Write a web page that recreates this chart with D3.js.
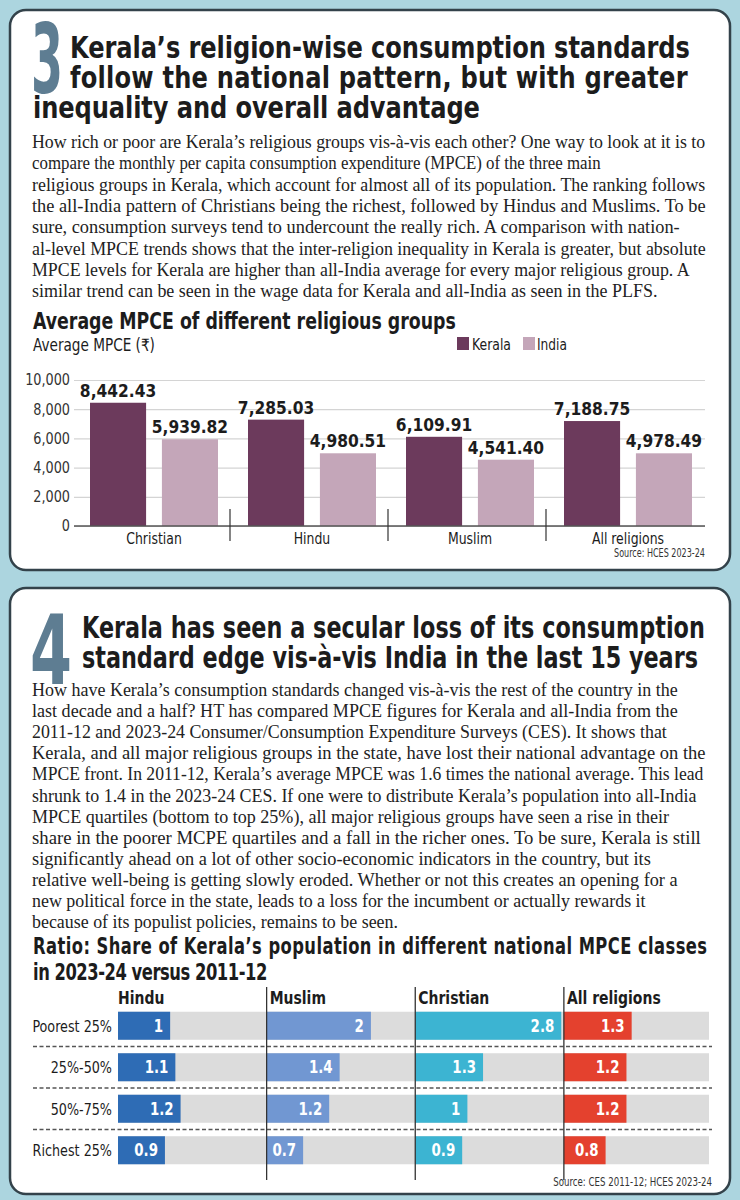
<!DOCTYPE html>
<html><head><meta charset="utf-8">
<script src="https://cdn.jsdelivr.net/npm/d3@7"></script>
<style>
html,body{margin:0;padding:0;background:#acd5df;}
svg{display:block;}
</style></head><body>
<svg id="c" width="740" height="1200"></svg>
<script>
// ---------- DATA ----------
const categories = ["Christian", "Hindu", "Muslim", "All religions"];
const seriesNames = ["Kerala", "India"];
const keralaMPCE = [8442.43, 7285.03, 6109.91, 7188.75];
const indiaMPCE = [5939.82, 4980.51, 4541.40, 4978.49];
const mpceTicks = [0, 2000, 4000, 6000, 8000, 10000];

const quartiles = ["Poorest 25%", "25%-50%", "50%-75%", "Richest 25%"];
const groups = ["Hindu", "Muslim", "Christian", "All religions"];
const hinduRatio = [1, 1.1, 1.2, 0.9];
const muslimRatio = [2, 1.4, 1.2, 0.7];
const christianRatio = [2.8, 1.3, 1, 0.9];
const allRatio = [1.3, 1.2, 1.2, 0.8];

// ---------- TEXT ----------
const title3 = ["Kerala\u2019s religion-wise consumption standards",
  "follow the national pattern, but with greater",
  "inequality and overall advantage"];
const body1 = [
  "How rich or poor are Kerala\u2019s religious groups vis-\u00e0-vis each other? One way to look at it is to",
  "compare the monthly per capita consumption expenditure (MPCE) of the three main",
  "religious groups in Kerala, which account for almost all of its population. The ranking follows",
  "the all-India pattern of Christians being the richest, followed by Hindus and Muslims. To be",
  "sure, consumption surveys tend to undercount the really rich. A comparison with nation-",
  "al-level MPCE trends shows that the inter-religion inequality in Kerala is greater, but absolute",
  "MPCE levels for Kerala are higher than all-India average for every major religious group. A",
  "similar trend can be seen in the wage data for Kerala and all-India as seen in the PLFS."];
const chart1Title = "Average MPCE of different religious groups";
const chart1Sub = "Average MPCE (\u20b9)";
const source1 = "Source: HCES 2023-24";

const title4 = ["Kerala has seen a secular loss of its consumption",
  "standard edge vis-\u00e0-vis India in the last 15 years"];
const body2 = [
  "How have Kerala\u2019s consumption standards changed vis-\u00e0-vis the rest of the country in the",
  "last decade and a half? HT has compared MPCE figures for Kerala and all-India from the",
  "2011-12 and 2023-24 Consumer/Consumption Expenditure Surveys (CES). It shows that",
  "Kerala, and all major religious groups in the state, have lost their national advantage on the",
  "MPCE front. In 2011-12, Kerala\u2019s average MPCE was 1.6 times the national average. This lead",
  "shrunk to 1.4 in the 2023-24 CES. If one were to distribute Kerala\u2019s population into all-India",
  "MPCE quartiles (bottom to top 25%), all major religious groups have seen a rise in their",
  "share in the poorer MCPE quartiles and a fall in the richer ones. To be sure, Kerala is still",
  "significantly ahead on a lot of other socio-economic indicators in the country, but its",
  "relative well-being is getting slowly eroded. Whether or not this creates an opening for a",
  "new political force in the state, leads to a loss for the incumbent or actually rewards it",
  "because of its populist policies, remains to be seen."];
const chart2Title = ["Ratio: Share of Kerala\u2019s population in different national MPCE classes",
  "in 2023-24 versus 2011-12"];
const source2 = "Source: CES 2011-12; HCES 2023-24";

// ---------- LAYOUT (line end positions) ----------
const body1Ends = [706, 601, 706, 706, 680, 706, 690, 658];
const body2Ends = [678, 678, 667, 706, 704, 697, 669, 701, 651, 678, 646, 398];

const COND = "'DejaVu Sans Condensed','DejaVu Sans','Liberation Sans',sans-serif";
const SERIF = "'Liberation Serif','DejaVu Serif',serif";

const svg = d3.select("#c");

// horizontal squeeze of a text around its anchor point (keeps real bounding box)
function squeeze(t, k) {
  const x = +t.attr("x"), y = +t.attr("y");
  t.attr("x", 0).attr("y", 0).attr("transform", `translate(${x},${y}) scale(${k},1)`);
  return t;
}
function fitW(t, width) {
  const w = t.node().getComputedTextLength();
  return squeeze(t, width / w);
}
function styleText(t, o) {
  return t.attr("font-family", o.family || COND)
    .attr("font-size", o.size || 16)
    .attr("font-weight", o.weight || "normal")
    .attr("fill", o.fill || "#1c1c1c");
}
function txt(g, s, x, y, o) {
  o = o || {};
  const t = styleText(g.append("text").attr("x", x).attr("y", y).text(s), o);
  if (o.anchor) t.attr("text-anchor", o.anchor);
  if (o.w) fitW(t, o.w);
  else if (o.k) squeeze(t, o.k);
  return t;
}
// multi-line heading as one text element: common squeeze, per-line letter-spacing
function block(g, lines, xs, ys, widths, o) {
  const t = styleText(g.append("text"), o);
  const sp = lines.map((s, i) => t.append("tspan").attr("x", xs[i]).attr("y", ys[i]).text(s));
  const L = sp.map(s => s.node().getComputedTextLength());
  const k = d3.mean(widths.map((w, i) => w / L[i]));
  t.attr("transform", `scale(${k},1)`);
  sp.forEach((s, i) => {
    const extra = (widths[i] / k - L[i]) / lines[i].length;
    s.attr("x", xs[i] / k).attr("letter-spacing", extra.toFixed(3));
  });
  return t;
}

// background
svg.append("rect").attr("width", 740).attr("height", 1200).attr("fill", "#acd5df");

// panels
svg.append("rect").attr("x", 10).attr("y", 10).attr("width", 720).attr("height", 560)
  .attr("rx", 16).attr("fill", "#fff").attr("stroke", "#33424a").attr("stroke-width", 2.5);
svg.append("rect").attr("x", 10).attr("y", 588).attr("width", 720).attr("height", 606)
  .attr("rx", 16).attr("fill", "#fff").attr("stroke", "#33424a").attr("stroke-width", 2.5);

// ---------- PANEL 1 ----------
const p1 = svg.append("g");
txt(p1, "3", 31, 93, {size: 96, weight: "bold", fill: "#5e7d92", w: 32});
block(p1, title3, [70, 70, 33], [58, 88, 118], [620, 618, 447], {size: 31, weight: "bold"});
body1.forEach((s, i) => txt(p1, s, 32, 148 + i * 21.3, {family: SERIF, size: 19.5, fill: "#222", w: body1Ends[i] - 32}));

txt(p1, chart1Title, 33, 329, {size: 23, weight: "bold", w: 423});
txt(p1, chart1Sub, 33, 351, {size: 17, w: 122});

const kColor = "#6c3a5c", iColor = "#c4a6b9";
const colorMap = {Kerala: kColor, India: iColor};
// legend
const leg = p1.append("g");
[["Kerala", 457, 472, 39], ["India", 523, 537, 30]].forEach(([n, sx, tx, w]) => {
  leg.append("rect").attr("x", sx).attr("y", 337).attr("width", 12).attr("height", 13).attr("fill", colorMap[n]);
  txt(leg, n, tx, 350, {size: 16, w: w});
});

const x0 = d3.scaleBand().domain(categories).range([72, 704]);
const x1 = d3.scaleBand().domain(seriesNames).range([18, 146]).paddingInner(0.22);
const y = d3.scaleLinear().domain([0, 10000]).range([526, 380]);

const yAxis = p1.append("g").attr("transform", "translate(74,0)")
  .call(d3.axisLeft(y).tickValues(mpceTicks).tickFormat(d3.format(",")).tickSize(-631).tickPadding(4));
yAxis.select(".domain").remove();
yAxis.selectAll(".tick line").attr("stroke", "#d4d4d4").attr("stroke-width", 1.2);
yAxis.selectAll(".tick text").attr("font-family", COND).attr("font-size", 15.5).attr("fill", "#333")
  .attr("transform", "scale(0.92,1)").attr("x", -4 / 0.92);

const c1data = categories.map((c, i) => ({cat: c, vals: [{s: "Kerala", v: keralaMPCE[i]}, {s: "India", v: indiaMPCE[i]}]}));
const gg = p1.selectAll(".grp").data(c1data).join("g").attr("transform", d => `translate(${x0(d.cat)},0)`);
gg.selectAll("rect").data(d => d.vals).join("rect")
  .attr("x", d => x1(d.s)).attr("width", x1.bandwidth())
  .attr("y", d => y(d.v)).attr("height", d => y(0) - y(d.v))
  .attr("fill", d => colorMap[d.s]);
gg.selectAll(".vl").data(d => d.vals).join("text").attr("class", "vl")
  .attr("x", d => x1(d.s) + x1.bandwidth() / 2).attr("y", d => y(d.v) - 6)
  .attr("text-anchor", "middle").attr("font-family", COND).attr("font-size", 18.5)
  .attr("font-weight", "bold").attr("fill", "#1c1c1c")
  .text(d => d3.format(",.2f")(d.v))
  .each(function () { squeeze(d3.select(this), 0.93); });
gg.append("text")
  .attr("x", x1("Kerala") + (x1("India") + x1.bandwidth() - x1("Kerala")) / 2)
  .attr("y", 544).attr("text-anchor", "middle").attr("font-family", COND)
  .attr("font-size", 16.5).attr("fill", "#1c1c1c").text(d => d.cat)
  .each(function () { squeeze(d3.select(this), 0.84); });

// baseline
p1.append("line").attr("x1", 74).attr("x2", 705).attr("y1", y(0)).attr("y2", y(0))
  .attr("stroke", "#555").attr("stroke-width", 1.3);
// group separators
categories.slice(1).forEach(c => {
  p1.append("line").attr("x1", x0(c)).attr("x2", x0(c)).attr("y1", y(0) - 17).attr("y2", y(0) + 15)
    .attr("stroke", "#333").attr("stroke-width", 1.2);
});
txt(p1, source1, 705, 557, {size: 12, anchor: "end", fill: "#333", w: 91});

// ---------- PANEL 2 ----------
const p2 = svg.append("g");
txt(p2, "4", 30, 684, {size: 96, weight: "bold", fill: "#5e7d92", w: 42});
block(p2, title4, [82, 82], [638, 668], [623, 616], {size: 31, weight: "bold"});
body2.forEach((s, i) => txt(p2, s, 32, 696 + i * 21.1, {family: SERIF, size: 19.5, fill: "#222", w: body2Ends[i] - 32}));
block(p2, chart2Title, [33, 33], [954, 980], [674, 234], {size: 23, weight: "bold"});

const colX = d3.scaleBand().domain(groups).range([118, 712.5]);
const rowY = d3.scaleBand().domain(quartiles).range([1005, 1171]).paddingInner(0.325).paddingOuter(0.1625);
const rx = d3.scaleLinear().domain([0, 2.85]).range([0, colX.bandwidth()]);
const groupColors = {"Hindu": "#2e6cb5", "Muslim": "#7197d2", "Christian": "#3cb4d2", "All religions": "#e4412e"};
const ratioSeries = {"Hindu": hinduRatio, "Muslim": muslimRatio, "Christian": christianRatio, "All religions": allRatio};

// headers
groups.forEach(g => txt(p2, g, colX(g) + (g === "Hindu" ? 0 : 3), 1004, {size: 18.5, weight: "bold", k: 0.84}));
// row labels + background bars
quartiles.forEach(q => {
  p2.append("rect").attr("x", 118).attr("y", rowY(q)).attr("width", 709 - 118).attr("height", rowY.bandwidth())
    .attr("fill", "#dcdcdc");
  txt(p2, q, 112, rowY(q) + rowY.bandwidth() / 2 + 6, {size: 16.5, anchor: "end", fill: "#1c1c1c", k: 0.86});
});
// dashed separators
quartiles.slice(1).forEach(q => {
  const yy = rowY(q) - (rowY.step() - rowY.bandwidth()) / 2;
  p2.append("line").attr("x1", 33).attr("x2", 712).attr("y1", yy).attr("y2", yy)
    .attr("stroke", "#555").attr("stroke-width", 1.4).attr("stroke-dasharray", "4,2.5");
});
// bars
const cells = [];
groups.forEach(g => quartiles.forEach((q, i) => cells.push({g, q, v: ratioSeries[g][i]})));
p2.selectAll(".rb").data(cells).join("rect").attr("class", "rb")
  .attr("x", d => colX(d.g)).attr("y", d => rowY(d.q))
  .attr("width", d => rx(d.v)).attr("height", rowY.bandwidth())
  .attr("fill", d => groupColors[d.g]);
p2.selectAll(".rl").data(cells).join("text").attr("class", "rl")
  .attr("x", d => colX(d.g) + rx(d.v) - 7).attr("y", d => rowY(d.q) + rowY.bandwidth() / 2 + 6)
  .attr("text-anchor", "end").attr("font-family", COND).attr("font-size", 17.5)
  .attr("font-weight", "bold").attr("fill", "#fff").text(d => d.v)
  .each(function () { squeeze(d3.select(this), 0.85); });
// column separators
groups.slice(1).forEach(g => {
  p2.append("line").attr("x1", colX(g)).attr("x2", colX(g)).attr("y1", 987).attr("y2", 1180)
    .attr("stroke", "#333").attr("stroke-width", 1.3);
});
txt(p2, source2, 712, 1186, {size: 12.5, anchor: "end", fill: "#333", w: 159});
</script>
</body></html>
